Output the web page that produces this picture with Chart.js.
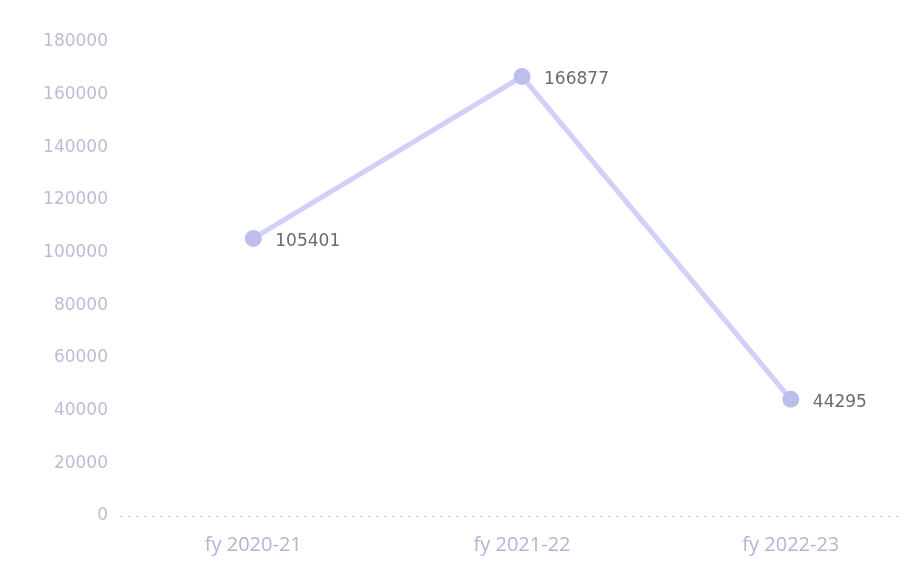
<!DOCTYPE html>
<html>
<head>
<meta charset="utf-8">
<script src="https://cdn.jsdelivr.net/npm/chart.js@4"></script>
<style>
  html, body { margin: 0; padding: 0; background: #ffffff; overflow: hidden; }
  #wrap { width: 912px; height: 564px; }
</style>
</head>
<body>
<div id="wrap"><canvas id="c" width="912" height="564"></canvas></div>
<script>
// Yearly totals by financial year
const categories = ['fy 2020-21', 'fy 2021-22', 'fy 2022-23'];
const totals = [105401, 166877, 44295];
const yTicks = [0, 20000, 40000, 60000, 80000, 100000, 120000, 140000, 160000, 180000];

// Writes each point's value just to the right of its marker
const valueLabels = {
  id: 'valueLabels',
  afterDatasetsDraw(chart) {
    const ctx = chart.ctx;
    const meta = chart.getDatasetMeta(0);
    ctx.save();
    ctx.font = '17px "DejaVu Sans", sans-serif';
    ctx.fillStyle = '#6a6a74';
    ctx.textAlign = 'left';
    ctx.textBaseline = 'middle';
    meta.data.forEach((pt, i) => {
      ctx.fillText(String(totals[i]), pt.x + 22, pt.y + 3);
    });
    ctx.restore();
  }
};

new Chart(document.getElementById('c'), {
  type: 'line',
  data: {
    datasets: [{
      data: totals.map((v, i) => ({ x: i, y: v })),
      borderColor: 'rgba(206, 206, 248, 0.95)',
      borderWidth: 5,
      pointBackgroundColor: 'rgba(190, 190, 236, 1)',
      pointBorderColor: 'rgba(190, 190, 236, 1)',
      pointRadius: 6,
      tension: 0
    }]
  },
  options: {
    responsive: false,
    animation: false,
    devicePixelRatio: 1,
    layout: { padding: { top: 42, right: 7, left: 0, bottom: 0 } },
    plugins: { legend: { display: false }, tooltip: { enabled: false } },
    scales: {
      x: {
        type: 'linear',
        min: -0.496,
        max: 2.41,
        afterBuildTicks(scale) {
          scale.ticks = categories.map((_, i) => ({ value: i }));
        },
        afterFit(scale) { scale.height = 48; },
        grid: { display: false, drawTicks: false },
        border: { display: false },
        ticks: {
          padding: 17,
          color: '#b4b4d4',
          font: { family: '"Open Sans", sans-serif', size: 20 },
          callback: (v) => categories[v] ?? ''
        }
      },
      y: {
        min: 0,
        max: 180000,
        afterBuildTicks(scale) {
          scale.ticks = yTicks.map(v => ({ value: v }));
        },
        afterFit(scale) { scale.width = 120; },
        grid: {
          drawTicks: false,
          color: (c) => c.tick && c.tick.value === 0 ? 'rgba(170,170,190,0.7)' : 'rgba(0,0,0,0)',
          lineWidth: 1
        },
        border: { display: false, dash: [2, 6] },
        ticks: {
          padding: 12,
          color: '#bcbcd6',
          font: { family: '"DejaVu Sans", sans-serif', size: 17 },
          callback: (v) => String(v)
        }
      }
    }
  },
  plugins: [valueLabels]
});
</script>
</body>
</html>
